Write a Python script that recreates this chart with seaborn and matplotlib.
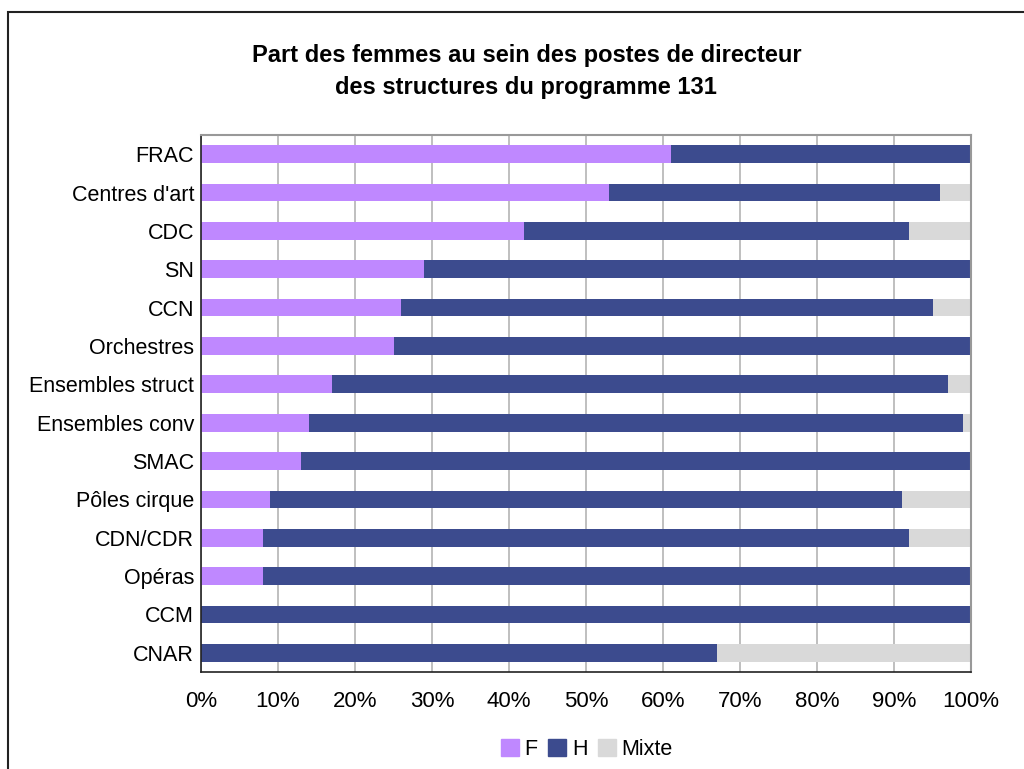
import pandas as pd
import numpy as np
import seaborn as sns
import matplotlib.pyplot as plt
from matplotlib.patches import Rectangle, Patch
from matplotlib.ticker import PercentFormatter

structures = ["FRAC", "Centres d'art", "CDC", "SN", "CCN", "Orchestres",
              "Ensembles struct", "Ensembles conv", "SMAC", "Pôles cirque",
              "CDN/CDR", "Opéras", "CCM", "CNAR"]
femmes = [61, 53, 42, 29, 26, 25, 17, 14, 13, 9, 8, 8, 0, 0]
hommes = [39, 43, 50, 71, 69, 75, 80, 85, 87, 82, 84, 92, 100, 67]
mixte = [0, 4, 8, 0, 5, 0, 3, 1, 0, 9, 8, 0, 0, 33]

df = pd.DataFrame({"structure": structures, "F": femmes, "H": hommes, "Mixte": mixte})
df["cum_H"] = df.F + df.H
df["cum_M"] = df.cum_H + df.Mixte

colors = {"F": "#bf88ff", "H": "#3c4b8e", "Mixte": "#d9d9d9"}

sns.set_style("white")
plt.rcParams["font.family"] = ["Liberation Sans", "DejaVu Sans"]
plt.rcParams["text.color"] = "black"

fig = plt.figure(figsize=(10.24, 7.69), dpi=100)
ax = fig.add_axes([201 / 1024, 1 - 672 / 769, 770 / 1024, 537 / 769])

# outer frame of the chart area
fig.patches.append(Rectangle((8 / 1024, -0.05), 1.2, 1 - 12 / 769 + 0.05,
                             transform=fig.transFigure, fill=False,
                             edgecolor="#222222", linewidth=1.5))

for col, key in [("cum_M", "Mixte"), ("cum_H", "H"), ("F", "F")]:
    sns.barplot(data=df, x=col, y="structure", order=structures, orient="h",
                color=colors[key], width=0.46, saturation=1, linewidth=0,
                ax=ax, zorder=2)

ax.set_xlim(0, 100)
ax.set_ylim(len(structures) - 0.5, -0.5)
ax.xaxis.set_major_formatter(PercentFormatter(decimals=0))
ax.set_xticks(np.arange(0, 101, 10))
ax.grid(axis="x", color="#b4b4b4", linewidth=1.2, zorder=0)
ax.set_axisbelow(True)
ax.set_xlabel("")
ax.set_ylabel("")

for side in ["top", "right"]:
    ax.spines[side].set_color("#999999")
    ax.spines[side].set_linewidth(1.5)
for side in ["left", "bottom"]:
    ax.spines[side].set_color("#222222")
    ax.spines[side].set_linewidth(1.2)

ax.set_yticks(np.arange(len(structures)))
ax.set_yticklabels(structures)
ax.set_yticks(np.arange(-0.5, len(structures), 1), minor=True)
ax.tick_params(axis="y", which="major", length=0, pad=5, labelsize=15.5, labelcolor="black")
ax.tick_params(axis="y", which="minor", length=5, direction="out", color="#222222")
ax.tick_params(axis="x", length=5, direction="out", color="#222222", labelsize=16,
               pad=9, labelcolor="black")

fig.text(0.514, 0.907, "Part des femmes au sein des postes de directeur\ndes structures du programme 131",
         ha="center", va="center", fontsize=17, fontweight="bold", linespacing=1.45,
         color="black")

handles = [Patch(color=colors[k], label=k) for k in ["F", "H", "Mixte"]]
fig.legend(handles=handles, loc="center", bbox_to_anchor=(0.573, 0.025), ncol=3,
           frameon=False, fontsize=15.5, handlelength=0.85, handleheight=0.85,
           handletextpad=0.25, columnspacing=0.5, labelcolor="black")

plt.savefig("out.png", dpi=100)
